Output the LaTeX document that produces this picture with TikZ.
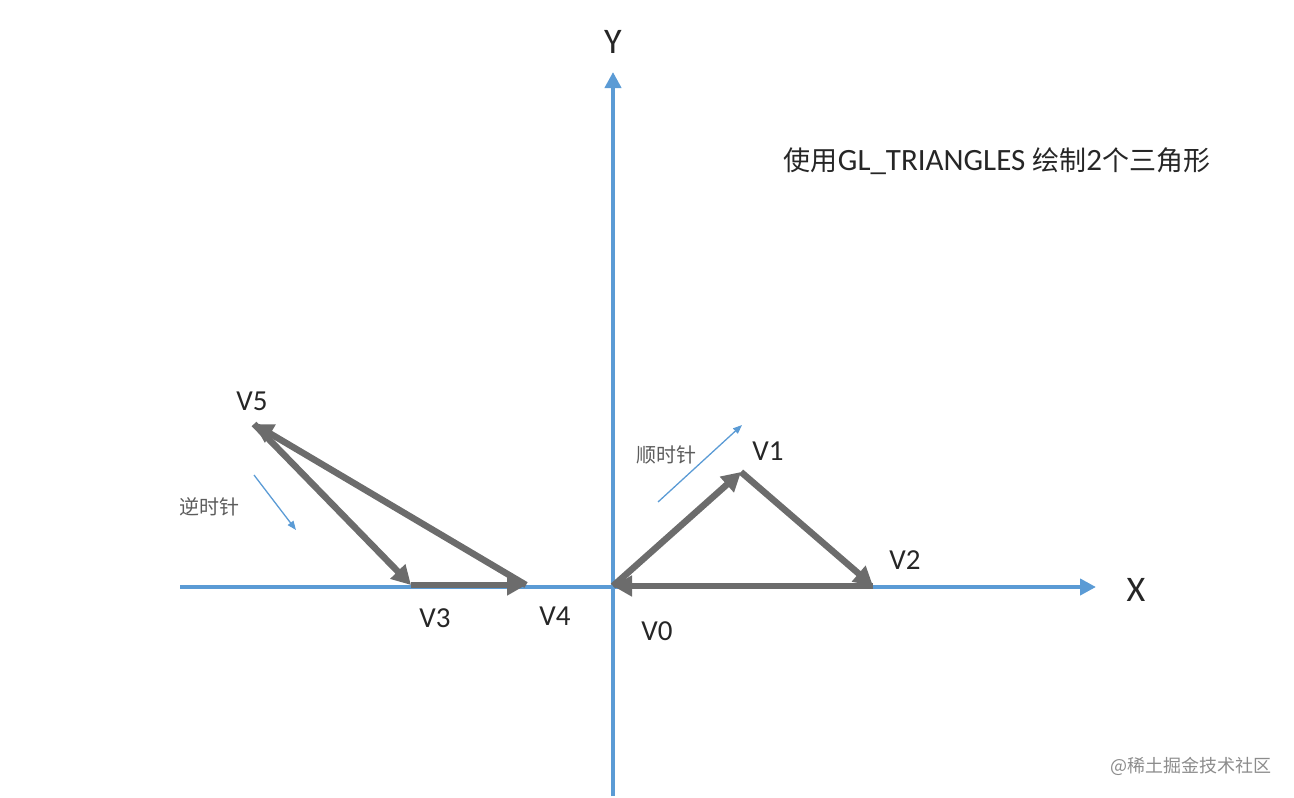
\documentclass[tikz,border=0pt]{standalone}
\usepackage{fontspec}
\setmainfont{Carlito}
\newfontfamily\cjk{Noto Sans CJK SC}
\usetikzlibrary{arrows.meta}
\definecolor{axisblue}{HTML}{5B9BD5}
\definecolor{edgegray}{HTML}{6C6C6C}
\definecolor{txt}{HTML}{262626}
\tikzset{
  axisline/.style={draw=axisblue,line width=4pt,-{Triangle[length=16pt,width=16pt]}},
  edge/.style={draw=edgegray,line width=6.5pt,-{Triangle[length=19pt,width=20pt]}},
  hint/.style={draw=axisblue,line width=1.3pt,-{Triangle[length=9pt,width=7pt]}},
  vlabel/.style={text=txt,font=\fontsize{29}{29}\selectfont,inner sep=0pt},
  hintlabel/.style={text=txt!75,font=\cjk\fontsize{20}{20}\selectfont,inner sep=0pt},
  cjktitle/.style={},
}
\newcommand{\tcjk}[1]{{\cjk\fontsize{27}{27}\selectfont #1}}
\begin{document}
\begin{tikzpicture}[x=1pt,y=-1pt]
\useasboundingbox (0,0) rectangle (1294,798);
% axes
\coordinate (xs) at (180,587);
\coordinate (xe) at (1096,587);
\coordinate (ys) at (613,796);
\coordinate (ye) at (613,72);
\draw[axisline] (xs) -- (xe);
\draw[axisline] (ys) -- (ye);
\node[text=txt,font=\fontsize{36}{36}\selectfont,inner sep=0pt] (ylab) at (613,42) {Y};
\node[text=txt,font=\fontsize{36}{36}\selectfont,inner sep=0pt] (xlab) at (1136,590) {X};
% vertices
\coordinate (v0) at (613,586);
\coordinate (v1) at (741,472);
\coordinate (v2) at (873,586);
\coordinate (v3) at (411,585);
\coordinate (v4) at (526,585);
\coordinate (v5) at (254,424);
% triangle 1
\draw[edge] (v0) -- (v1);
\draw[edge] (v1) -- (v2);
\draw[edge] (v2) -- (v0);
% triangle 2
\draw[edge] (v5) -- (v3);
\draw[edge] (v3) -- (v4);
\draw[edge] (v4) -- (v5);
% labels
\node[vlabel] (l0) at (657,631) {V0};
\node[vlabel] (l1) at (768,451) {V1};
\node[vlabel] (l2) at (905,560) {V2};
\node[vlabel] (l3) at (435,618) {V3};
\node[vlabel] (l4) at (555,616) {V4};
\node[vlabel] (l5) at (252,401) {V5};
% direction hints
\coordinate (h1s) at (658,502);
\coordinate (h1e) at (742,425);
\draw[hint] (h1s) -- (h1e);
\node[hintlabel] (cw) at (666,455) {顺时针};
\coordinate (h2s) at (254,475);
\coordinate (h2e) at (296,530);
\draw[hint] (h2s) -- (h2e);
\node[hintlabel] (ccw) at (209,507) {逆时针};
% title
\node[text=txt,inner sep=0pt,font=\fontsize{31}{31}\selectfont] (title) at (997,161)
  {\tcjk{使用}GL\_TRIANGLES \tcjk{绘制}2\tcjk{个三角形}};
% watermark
\node[text=black!45,inner sep=0pt,font=\cjk\fontsize{18}{18}\selectfont] (wm) at (1191,766) {@稀土掘金技术社区};
\end{tikzpicture}
\end{document}
